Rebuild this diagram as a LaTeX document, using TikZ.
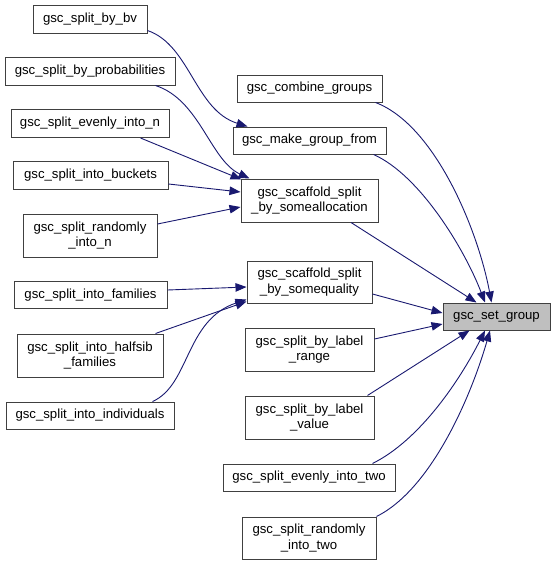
\documentclass[tikz,border=0pt]{standalone}
\usepackage{fontspec}
\setmainfont{Liberation Sans}
\usetikzlibrary{arrows.meta}
\definecolor{edgec}{RGB}{25,25,112}
\definecolor{boxc}{RGB}{64,64,64}
\definecolor{hl}{RGB}{191,191,191}
\begin{document}
\begin{tikzpicture}[x=1pt,y=-1pt,
  box/.style={draw=boxc,line width=1pt,fill=white,inner sep=0pt,align=center,
    font=\fontsize{13.2}{15.5}\selectfont},
  edge/.style={draw=edgec,line width=0.9pt,-{Triangle[length=11pt,width=8.5pt]}}]
\useasboundingbox (0,0) rectangle (555,565);
% left column
\node[box,minimum width=114pt,minimum height=28pt] (bv) at (90,19) {gsc\_split\_by\_bv};
\node[box,minimum width=170pt,minimum height=28pt] (prob) at (90,71) {gsc\_split\_by\_probabilities};
\node[box,minimum width=158pt,minimum height=28pt] (evn) at (90,123.5) {gsc\_split\_evenly\_into\_n};
\node[box,minimum width=155pt,minimum height=28pt] (buck) at (90.5,175) {gsc\_split\_into\_buckets};
\node[box,minimum width=134pt,minimum height=43pt] (randn) at (90,235.5) {gsc\_split\_randomly\\\_into\_n};
\node[box,minimum width=153pt,minimum height=27pt] (fam) at (90.5,295) {gsc\_split\_into\_families};
\node[box,minimum width=146pt,minimum height=43pt] (half) at (90,355.5) {gsc\_split\_into\_halfsib\\\_families};
\node[box,minimum width=168pt,minimum height=27pt] (indiv) at (90,415.5) {gsc\_split\_into\_individuals};
% middle column
\node[box,minimum width=145pt,minimum height=27pt] (comb) at (309.5,88.5) {gsc\_combine\_groups};
\node[box,minimum width=153pt,minimum height=27pt] (make) at (309.5,140.5) {gsc\_make\_group\_from};
\node[box,minimum width=137pt,minimum height=43pt] (alloc) at (309.5,200.5) {gsc\_scaffold\_split\\\_by\_someallocation};
\node[box,minimum width=125pt,minimum height=42pt] (qual) at (309.5,282) {gsc\_scaffold\_split\\\_by\_somequality};
\node[box,minimum width=129pt,minimum height=43pt] (range) at (309.5,349.5) {gsc\_split\_by\_label\\\_range};
\node[box,minimum width=129pt,minimum height=43pt] (value) at (309.5,417.5) {gsc\_split\_by\_label\\\_value};
\node[box,minimum width=172pt,minimum height=27pt] (eventwo) at (309,477.5) {gsc\_split\_evenly\_into\_two};
\node[box,minimum width=134pt,minimum height=42pt] (randtwo) at (309,538) {gsc\_split\_randomly\\\_into\_two};
% target
\node[box,fill=hl,minimum width=107pt,minimum height=27pt] (set) at (496.5,316.5) {gsc\_set\_group};
% edges
\draw[edge] ([yshift=3pt]bv.south east) .. controls (190,45) and (195,110) .. ([xshift=15pt]make.north west);
\draw[edge] ([xshift=-20pt]prob.south east) .. controls (200,100) and (210,160) .. ([xshift=9pt]alloc.north west);
\draw[edge] ([xshift=-29pt]evn.south east) -- ([xshift=1pt,yshift=-1pt]alloc.north west);
\draw[edge] ([yshift=-9pt]buck.east) -- ([yshift=8.5pt]alloc.west);
\draw[edge] ([yshift=11.5pt]randn.east) -- ([yshift=-6.5pt]alloc.west);
\draw[edge] ([yshift=5pt]fam.east) -- ([yshift=-5pt]qual.west);
\draw[edge] ([xshift=-8pt]half.north east) -- ([yshift=2pt]qual.south west);
\draw[edge] ([xshift=-22pt]indiv.north east) .. controls (190,385) and (185,320) .. ([yshift=4pt]qual.south west);
\draw[edge] ([xshift=-7pt]comb.south east) .. controls (435,125) and (478,230) .. ([xshift=-5pt]set.north);
\draw[edge] ([xshift=-13pt]make.south east) .. controls (420,175) and (465,250) .. ([xshift=-11.5pt]set.north);
\draw[edge] ([xshift=41.5pt]alloc.south) -- ([xshift=34pt]set.north west);
\draw[edge] ([yshift=-12pt]qual.east) -- ([yshift=3.5pt]set.west);
\draw[edge] ([yshift=10.5pt]range.east) -- ([yshift=-7.5pt]set.west);
\draw[edge] ([xshift=-7pt]value.north east) -- ([xshift=27pt]set.south west);
\draw[edge] ([xshift=-23pt]eventwo.north east) .. controls (420,440) and (460,380) .. ([xshift=-11.5pt]set.south);
\draw[edge] (randtwo.north east) .. controls (430,490) and (470,400) .. ([xshift=-6.5pt]set.south);
\end{tikzpicture}
\end{document}
